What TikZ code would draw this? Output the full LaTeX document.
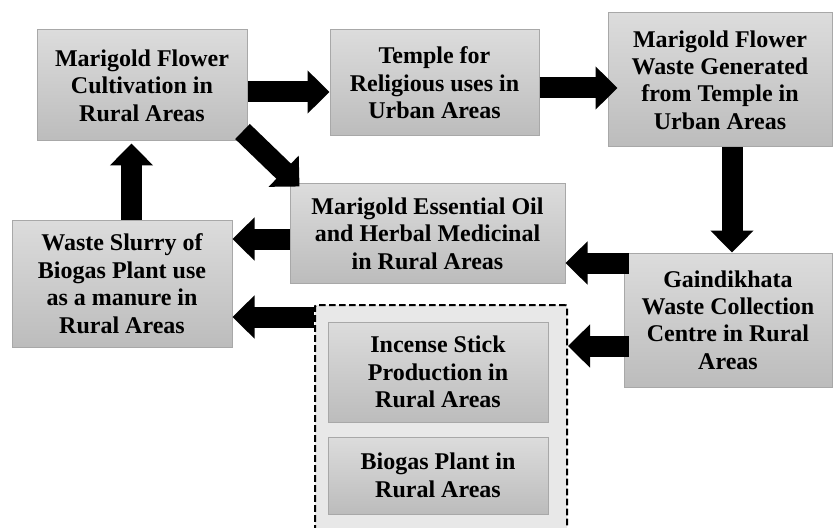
\documentclass[tikz,border=0pt]{standalone}
\usepackage{fontspec}
\setmainfont{Liberation Serif}
\usepackage{tikz}
\usetikzlibrary{positioning,arrows.meta,calc,shapes}
\definecolor{boxtop}{HTML}{DCDCDC}
\definecolor{boxbot}{HTML}{BCBCBC}
\definecolor{boxedge}{HTML}{A8A8A8}
\definecolor{grpfill}{HTML}{E8E8E8}

\begin{document}
\begin{tikzpicture}[x=0.75pt,y=-0.75pt,
    box/.style={draw=boxedge,line width=0.75pt,top color=boxtop,bottom color=boxbot,
        align=center,inner sep=0pt,font=\bfseries\fontsize{18}{20.6}\selectfont},
    grpbox/.style={draw=black,fill=grpfill,line width=1.5pt,dash pattern=on 5pt off 2.5pt,
        inner sep=0pt,rounded corners=1pt},
    blockarrow/.style={black,line width=15.75pt,-{Triangle[width=31.5pt,length=16.5pt]}}]
            \useasboundingbox (0,0) rectangle (833,528);

            \node[box,minimum width=157.5pt,minimum height=83.25pt] (cult) at (142,85.5)
                {Marigold Flower\\Cultivation in\\Rural Areas};
            \node[box,minimum width=156.75pt,minimum height=79.5pt] (temple) at (434.5,83)
                {Temple for\\Religious uses in\\Urban Areas};
            \node[box,minimum width=168pt,minimum height=100.5pt] (waste) at (720,80)
                {Marigold Flower\\Waste Generated\\from Temple in\\Urban Areas};
            \node[box,minimum width=206.25pt,minimum height=74.25pt] (oil) at (427.5,233.5)
                {Marigold Essential Oil\\and Herbal Medicinal\\in Rural Areas};
            \node[box,minimum width=165pt,minimum height=95.25pt] (slurry) at (122,283.5)
                {Waste Slurry of\\Biogas Plant use\\as a manure in\\Rural Areas};
            \node[box,minimum width=156pt,minimum height=100.5pt] (centre) at (728,320)
                {Gaindikhata\\Waste Collection\\Centre in Rural\\Areas};

            % dashed group, runs past the lower edge
            \node[grpbox,minimum width=189pt,minimum height=180pt] (grp) at (441,425) {};
            \node[box,minimum width=165pt,minimum height=75pt] (incense) at (438,372)
                {Incense Stick\\Production in\\Rural Areas};
            \node[box,minimum width=165pt,minimum height=57.75pt] (biogas) at (438,475.5)
                {Biogas Plant in\\Rural Areas};

            \begin{scope}[blockarrow]
                \draw (cult.east |- 0,92) -- (temple.west |- 0,92);
                \draw (temple.east |- 0,88) -- ($(waste.west |- 0,88)+(10,0)$);
                \draw (waste.south -| 732,0) -- (centre.north -| 732,0);
                \draw ($(cult.south east)+(-5,-10)$) -- ($(oil.north west)+(10,3)$);
                \draw (slurry.north -| 131.5,0) -- ($(cult.south -| 131.5,0)+(0,2)$);
                \draw (oil.west |- 0,239) -- (slurry.east |- 0,239);
                \draw ($(centre.west |- 0,263)+(5,0)$) -- (oil.east |- 0,263);
                \draw ($(centre.west |- 0,346)+(5,0)$) -- (grp.east |- 0,346);
                \draw (grp.west |- 0,317) -- (slurry.east |- 0,317);
            \end{scope}
        \end{tikzpicture}
\end{document}
